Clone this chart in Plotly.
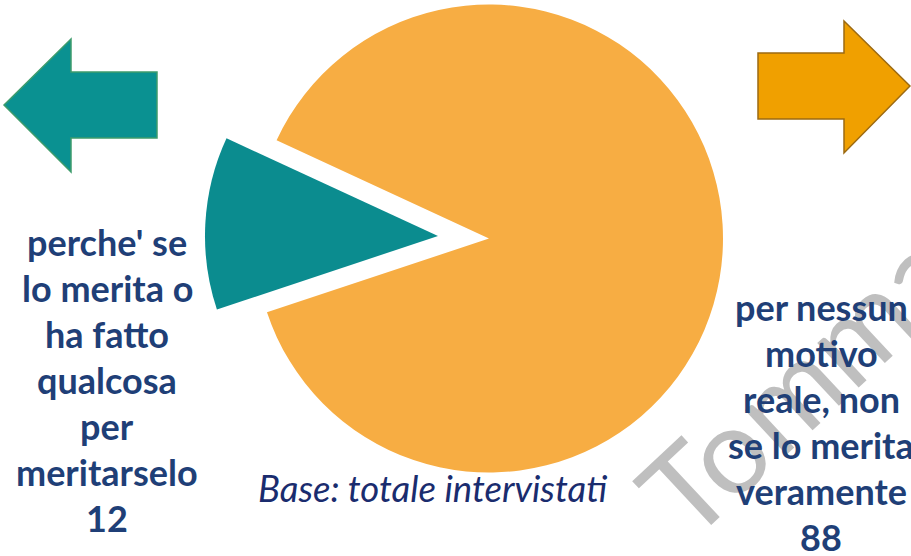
import plotly.graph_objects as go

# ---- data ----
labels = ["perche' se lo merita o ha fatto qualcosa per meritarselo",
          "per nessun motivo reale, non se lo merita veramente"]
values = [12, 88]
colors = ["#0B8C8F", "#F7AD43"]

left_lines = ["perche' se", "lo merita o", "ha fatto", "qualcosa", "per", "meritarselo", "12"]
right_lines = ["per nessun", "motivo", "reale, non", "se lo merita", "veramente", "88"]
base_text = "Base: totale intervistati"
watermark = "Tomma"

W, H = 911, 556

# ---- layout geometry (pixels) ----
orange_c, orange_r = (489, 238.5), 234
teal_c, teal_r = (438, 236), 233
rotation = -108.4


def domain(c, r):
    cx, cy = c
    return dict(x=[(cx - r) / W, (cx + r) / W],
                y=[(H - cy - r) / H, (H - cy + r) / H])


fig = go.Figure()
# main (orange) part
fig.add_trace(go.Pie(labels=labels, values=values, sort=False, direction="clockwise",
                     rotation=rotation, domain=domain(orange_c, orange_r),
                     marker=dict(colors=["rgba(0,0,0,0)", colors[1]], line=dict(width=0)),
                     textinfo="none", hoverinfo="skip", showlegend=False))
# exploded (teal) slice
fig.add_trace(go.Pie(labels=labels, values=values, sort=False, direction="clockwise",
                     rotation=rotation, domain=domain(teal_c, teal_r),
                     marker=dict(colors=[colors[0], "rgba(0,0,0,0)"], line=dict(width=0)),
                     textinfo="none", hoverinfo="skip", showlegend=False))

# ---- arrows ----
left_arrow = [(4, 105), (71, 39), (71, 72), (157, 72), (157, 138), (71, 138), (71, 172)]
right_arrow = [(910, 86), (844, 21), (844, 53), (758, 53), (758, 119), (844, 119), (844, 153)]


def path(pts):
    return "M " + " L ".join(f"{x},{y}" for x, y in pts) + " Z"


shapes = [
    dict(type="path", xref="x", yref="y", path=path(left_arrow),
         fillcolor="#0A9191", line=dict(color="#3E9C6C", width=1.5), layer="below"),
    dict(type="path", xref="x", yref="y", path=path(right_arrow),
         fillcolor="#F0A000", line=dict(color="#9C6A12", width=1.5), layer="below"),
]

annotations = []
# watermark
annotations.append(dict(text=watermark, x=797, y=382, xref="x", yref="y",
                        xanchor="center", yanchor="middle", showarrow=False,
                        textangle=-43,
                        font=dict(family="Lato", size=120, weight=400,
                                  color="rgba(175,175,175,0.8)")))

txt_color = "#1F3F77"
step = 46
for i, s in enumerate(left_lines):
    annotations.append(dict(text=f"<b>{s}</b>", x=107, y=242 + i * step, xref="x", yref="y",
                            xanchor="center", yanchor="middle", showarrow=False,
                            font=dict(family="Lato", size=36, color=txt_color)))
for i, s in enumerate(right_lines):
    annotations.append(dict(text=f"<b>{s}</b>", x=821, y=307 + i * step, xref="x", yref="y",
                            xanchor="center", yanchor="middle", showarrow=False,
                            font=dict(family="Lato", size=36, color=txt_color)))
annotations.append(dict(text=f"<i>{base_text}</i>", x=432, y=488, xref="x", yref="y",
                        xanchor="center", yanchor="middle", showarrow=False,
                        font=dict(family="Lato", size=36.5, color="#1A2C6E")))

fig.update_layout(
    width=W, height=H, margin=dict(l=0, r=0, t=0, b=0),
    paper_bgcolor="white", plot_bgcolor="rgba(0,0,0,0)",
    xaxis=dict(range=[0, W], visible=False, fixedrange=True),
    yaxis=dict(range=[H, 0], visible=False, fixedrange=True),
    shapes=shapes, annotations=annotations,
)

fig.write_html("out.html", config={"displayModeBar": False},
               post_script="document.body.style.margin='0px';")
